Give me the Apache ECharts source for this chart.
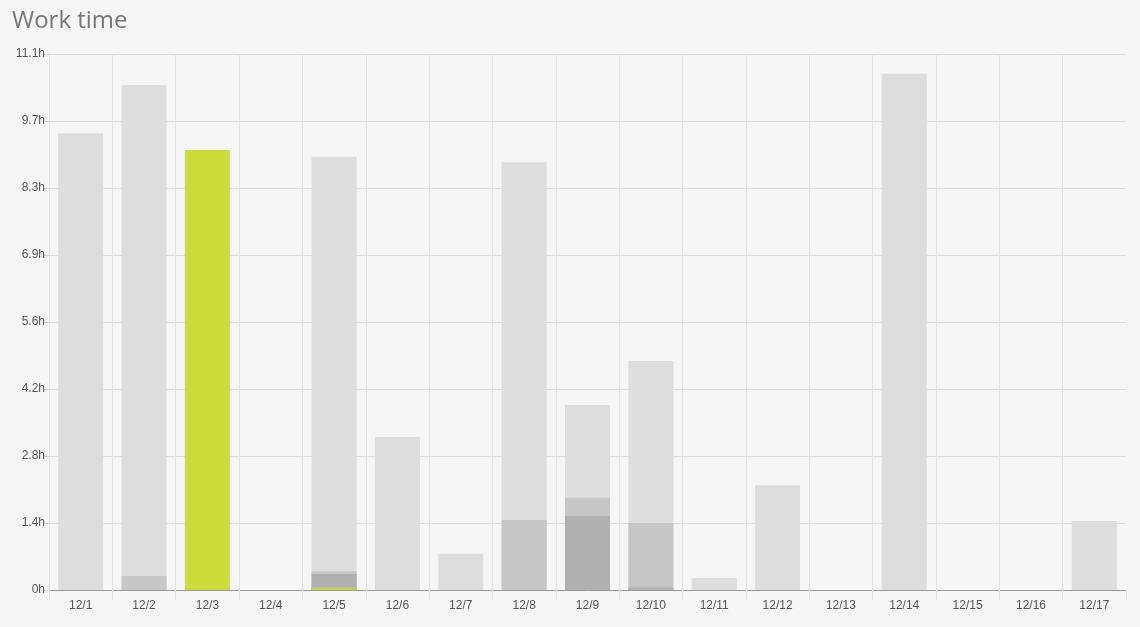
<!DOCTYPE html>
<html>
<head>
<meta charset="utf-8">
<script src="https://cdn.jsdelivr.net/npm/echarts@6/dist/echarts.min.js"></script>
<style>
html,body{margin:0;padding:0;background:#f5f5f5;}
#c{width:1140px;height:627px;}
</style>
</head>
<body>
<div id="c"></div>
<script>
const categories = ['12/1','12/2','12/3','12/4','12/5','12/6','12/7','12/8','12/9','12/10','12/11','12/12','12/13','12/14','12/15','12/16','12/17'];
const totalHours = [9.46,10.46,0,0,8.97,3.17,0.75,8.86,3.83,4.74,0.25,2.17,0,10.69,0,0,1.43];
const todayHours = [0,0,9.11,0,0,0,0,0,0,0,0,0,0,0,0,0,0];
const layer2Hours = [0,0.29,0,0,0.39,0,0,1.45,1.91,1.39,0,0,0,0,0,0,0];
const layer3Hours = [0,0,0,0,0.33,0,0,0,1.53,0.05,0,0,0,0,0,0,0];
const layer4Hours = [0,0,0.03,0,0.05,0,0,0,0,0,0,0,0,0,0,0,0];
const yMax = 11.1;
const ySteps = 8;

const chart = echarts.init(document.getElementById('c'));
const fmt = v => (Math.round(v * 10) / 10) + 'h';
function barSeries(name, data, color) {
  return {
    name: name, type: 'bar', data: data, barGap: '-100%', barCategoryGap: '29%',
    itemStyle: { color: color }, silent: true
  };
}
chart.setOption({
  backgroundColor: '#f5f5f5',
  animation: false,
  title: {
    text: 'Work time', left: 7, top: 4,
    textStyle: { fontFamily: 'Open Sans', fontSize: 24, fontWeight: 'normal', color: '#777' }
  },
  grid: { left: 49, right: 14, top: 54, bottom: 37 },
  xAxis: {
    type: 'category', data: categories, boundaryGap: true,
    axisLine: { lineStyle: { color: '#999', width: 1 } },
    axisTick: { show: true, length: 10, lineStyle: { color: '#e2e2e2' } },
    axisLabel: { color: '#555', fontSize: 12, fontFamily: 'Liberation Sans, Arial', margin: 10 },
    splitLine: { show: true, showMaxLine: false, lineStyle: { color: '#e2e2e2' } }
  },
  yAxis: {
    type: 'value', min: 0, max: yMax, interval: yMax / ySteps,
    axisLine: { show: false },
    axisTick: { show: true, length: 5, lineStyle: { color: '#ccc' } },
    axisLabel: { color: '#555', fontSize: 12, fontFamily: 'Liberation Sans, Arial', margin: 4, formatter: fmt },
    splitLine: { lineStyle: { color: '#dcdcdc' } }
  },
  series: [
    barSeries('total', totalHours, '#dddddd'),
    barSeries('today', todayHours, '#cddc39'),
    barSeries('layer2', layer2Hours, '#c6c6c6'),
    barSeries('layer3', layer3Hours, '#b0b0b0'),
    barSeries('layer4', layer4Hours, '#c9d63a')
  ]
});
</script>
</body>
</html>
